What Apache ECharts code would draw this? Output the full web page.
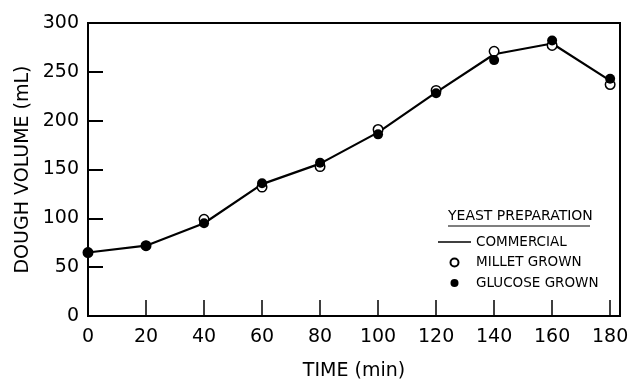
<!DOCTYPE html>
<html>
<head>
<meta charset="utf-8">
<script src="https://cdn.jsdelivr.net/npm/echarts@6/dist/echarts.min.js"></script>
<style>html,body{margin:0;padding:0;background:#fff}#c{width:628px;height:379px}</style>
</head>
<body>
<div id="c"></div>
<script>
var time = [0, 20, 40, 60, 80, 100, 120, 140, 160, 180];
var commercial = [65, 72, 95, 135, 156, 188, 229, 268, 279, 241];
var millet = [65, 72, 99, 132, 153, 191, 231, 271, 277, 237];
var glucose = [65, 72, 95, 136, 157, 186, 228, 262, 282, 243];
var xTicks = [0, 20, 40, 60, 80, 100, 120, 140, 160, 180];
var yTicks = [0, 50, 100, 150, 200, 250, 300];

function pairs(xs, ys) { return xs.map(function (x, i) { return [x, ys[i]]; }); }

var F = 'DejaVu Sans';
var chart = echarts.init(document.getElementById('c'));
chart.setOption({
  animation: false,
  backgroundColor: '#fff',
  grid: { left: 88, right: 8, top: 23, bottom: 63, show: true, borderColor: '#000', borderWidth: 2,
    backgroundColor: 'transparent', containLabel: false, outerBoundsMode: 'none' },
  xAxis: {
    type: 'value', min: 0, max: 183.4, interval: 20,
    name: 'TIME (min)', nameLocation: 'middle', nameGap: 46, nameMoveOverlap: false,
    nameTextStyle: { fontFamily: F, fontSize: 19, color: '#000' },
    axisLine: { show: true, lineStyle: { color: '#000', width: 2 } },
    axisTick: { show: true, inside: true, length: 16, lineStyle: { color: '#000', width: 1.5 } },
    axisLabel: { margin: 12, fontFamily: F, fontSize: 19, color: '#000', showMaxLabel: false,
      formatter: function (v) { return xTicks.indexOf(v) >= 0 ? String(v) : ''; } },
    splitLine: { show: false }
  },
  yAxis: {
    type: 'value', min: 0, max: 300, interval: 50,
    name: 'DOUGH VOLUME (mL)', nameLocation: 'middle', nameGap: 55, nameRotate: 90, nameMoveOverlap: false,
    nameTextStyle: { fontFamily: F, fontSize: 19, color: '#000' },
    axisLine: { show: true, lineStyle: { color: '#000', width: 2 } },
    axisTick: { show: true, inside: true, length: 15, lineStyle: { color: '#000', width: 2 } },
    axisLabel: { margin: 9, fontFamily: F, fontSize: 19, color: '#000',
      formatter: function (v) { return yTicks.indexOf(v) >= 0 ? String(v) : ''; } },
    splitLine: { show: false }
  },
  legend: {
    orient: 'vertical', left: 438, top: 235, padding: 0,
    itemWidth: 33, itemHeight: 8, itemGap: 6.5,
    textStyle: { fontFamily: F, fontSize: 13.5, color: '#000' },
    data: [
      { name: 'COMMERCIAL', icon: 'path://M0,0H33V1.5H0Z', itemStyle: { color: '#000', opacity: 1 } },
      { name: 'MILLET GROWN', icon: 'circle' },
      { name: 'GLUCOSE GROWN', icon: 'circle' }
    ]
  },
  graphic: [
    { type: 'text', left: 448, top: 209, style: { text: 'YEAST PREPARATION', font: '14px "DejaVu Sans"', fill: '#000' } },
    { type: 'line', shape: { x1: 448, y1: 226, x2: 590, y2: 226 }, style: { stroke: '#000', lineWidth: 1.2 } }
  ],
  series: [
    { name: 'COMMERCIAL', type: 'line', data: pairs(time, commercial), symbol: 'none', showSymbol: false,
      lineStyle: { color: '#000', width: 2.2 }, itemStyle: { color: '#000' }, z: 2 },
    { name: 'MILLET GROWN', type: 'scatter', data: pairs(time, millet), symbol: 'circle', symbolSize: 9.5,
      itemStyle: { color: '#fff', borderColor: '#000', borderWidth: 1.5, opacity: 1 }, z: 3 },
    { name: 'GLUCOSE GROWN', type: 'scatter', data: pairs(time, glucose), symbol: 'circle', symbolSize: 10,
      itemStyle: { color: '#000', borderColor: '#000', borderWidth: 0, opacity: 1 }, z: 4 }
  ]
});
</script>
</body>
</html>
